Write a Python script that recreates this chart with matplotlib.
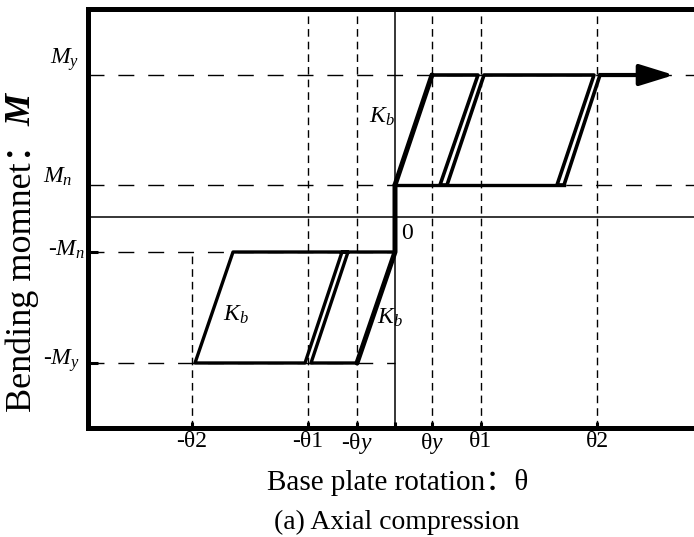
import matplotlib
matplotlib.use('Agg')
import matplotlib.pyplot as plt

plt.rcParams['font.family'] = ['Liberation Serif', 'Noto Sans CJK SC']
plt.rcParams['mathtext.fontset'] = 'custom'
plt.rcParams['mathtext.rm'] = 'Liberation Serif'
plt.rcParams['mathtext.it'] = 'Liberation Serif:italic'
plt.rcParams['mathtext.bf'] = 'Liberation Serif:bold'

# rotation levels (arbitrary units)
theta_ticks = [-203, -87, -38, 0, 37, 86, 202]
theta_labels = ['-θ2', '-θ1', '-θ$y$', '', 'θ$y$', 'θ1', 'θ2']

# moment levels
My, Mn = 142, 32
neg_Mn, neg_My = -35, -146
M_labels = ['$M_y$', '$M_n$', '-$M_n$', '-$M_y$']

# elastic loading branches (drawn thicker)
load_pos_x = [0, 37]
load_pos_y = [32, 142]
load_neg_x = [0, 0, -38]
load_neg_y = [32, -35, -146]

# positive hysteresis path
loop_pos_x = [37, 83, 45, 52, 89, 199, 162, 169, 205]
loop_pos_y = [142, 142, 32, 32, 142, 142, 32, 32, 142]
base_pos_x = [0, 169]
base_pos_y = [32, 32]

# negative hysteresis path
loop_neg_x = [-38, -84, -47, -53, -90, -200, -162, 0]
loop_neg_y = [-146, -146, -35, -35, -146, -146, -35, -35]

arrow_from = (205, 142)
arrow_to = (279, 142)

xmin, xmax = -307, 299
ymin, ymax = -211, 208

fig = plt.figure(figsize=(6.94, 5.37), dpi=100)
ax = fig.add_axes([0.1268, 0.203, 1.0 - 0.1268, 0.9832 - 0.203])
ax.set_xlim(xmin, xmax)
ax.set_ylim(ymin, ymax)

for side in ['left', 'top', 'bottom']:
    ax.spines[side].set_linewidth(3.6)
ax.spines['right'].set_visible(False)

# thin axes through origin
ax.plot([xmin, xmax], [0, 0], color='black', lw=1.1, zorder=1)
ax.plot([0, 0], [ymin, ymax], color='black', lw=1.1, zorder=1)

# dashed guide lines
hdash = (11.5, 10)
vdash = (5.5, 3.6)
for m in [My, Mn]:
    ax.plot([xmin, xmax], [m, m], color='black', lw=1.0, dashes=hdash, zorder=1)
for m in [neg_Mn, neg_My]:
    ax.plot([xmin, 0], [m, m], color='black', lw=1.0, dashes=hdash, zorder=1)
for t in theta_ticks:
    if t == 0:
        continue
    top = neg_Mn if t == min(theta_ticks) else ymax
    ax.plot([t, t], [ymin, top], color='black', lw=1.0, dashes=vdash, zorder=1)

# hysteresis curves
ax.plot(load_pos_x, load_pos_y, color='black', lw=3.6, solid_capstyle='round', zorder=3)
ax.plot(load_neg_x, load_neg_y, color='black', lw=3.6, solid_capstyle='round', zorder=3)
ax.plot(loop_pos_x, loop_pos_y, color='black', lw=2.6, zorder=3)
ax.plot(base_pos_x, base_pos_y, color='black', lw=2.4, zorder=3)
ax.plot(loop_neg_x, loop_neg_y, color='black', lw=2.4, zorder=3)
ax.annotate('', xy=arrow_to, xytext=arrow_from,
            arrowprops=dict(arrowstyle='-|>,head_length=0.42,head_width=0.13',
                            mutation_scale=50, lw=3, color='black',
                            shrinkA=0, shrinkB=0), zorder=4)

# ticks
ax.set_xticks(theta_ticks)
ax.set_xticklabels(theta_labels)
ax.tick_params(axis='x', direction='in', length=4, width=2.2, labelsize=17, pad=2)
ax.set_yticks([neg_Mn, neg_My])
ax.set_yticklabels(['', ''])
ax.tick_params(axis='y', direction='in', length=7, width=2.2)

# moment labels at left
offsets = [(-6, 11), (-11.5, 5.8), (-2, 1.4), (-5.8, 2)]
for lab, m, off in zip(M_labels, [My, Mn, neg_Mn, neg_My], offsets):
    ax.annotate(lab, xy=(xmin, m), xytext=off, textcoords='offset points',
                ha='right', va='center', fontsize=17, annotation_clip=False)

# stiffness labels
for kx, ky in [(-13, 100), (-159, -98), (-5, -101)]:
    ax.text(kx, ky, '$K_b$', ha='center', va='center', fontsize=17, zorder=5)
ax.text(12, -16, '0', ha='center', va='center', fontsize=17)

# axis titles
fig.text(398 / 694, 1 - 483 / 537, 'Base plate rotation：θ', ha='center', va='center',
         fontsize=21)
fig.text(397 / 694, 1 - 522 / 537, '(a) Axial compression', ha='center', va='center',
         fontsize=20)
ylab = fig.text(22 / 694, 1 - 412 / 537, 'Bending momnet：', rotation=90,
                ha='center', va='bottom', fontsize=26)
ax.annotate('M', xy=(0.5, 1.0), xycoords=ylab, ha='center', va='bottom',
            rotation=90, fontsize=26, fontweight='bold', style='italic',
            family='Liberation Serif', annotation_clip=False)

fig.savefig('out.png', dpi=100)
